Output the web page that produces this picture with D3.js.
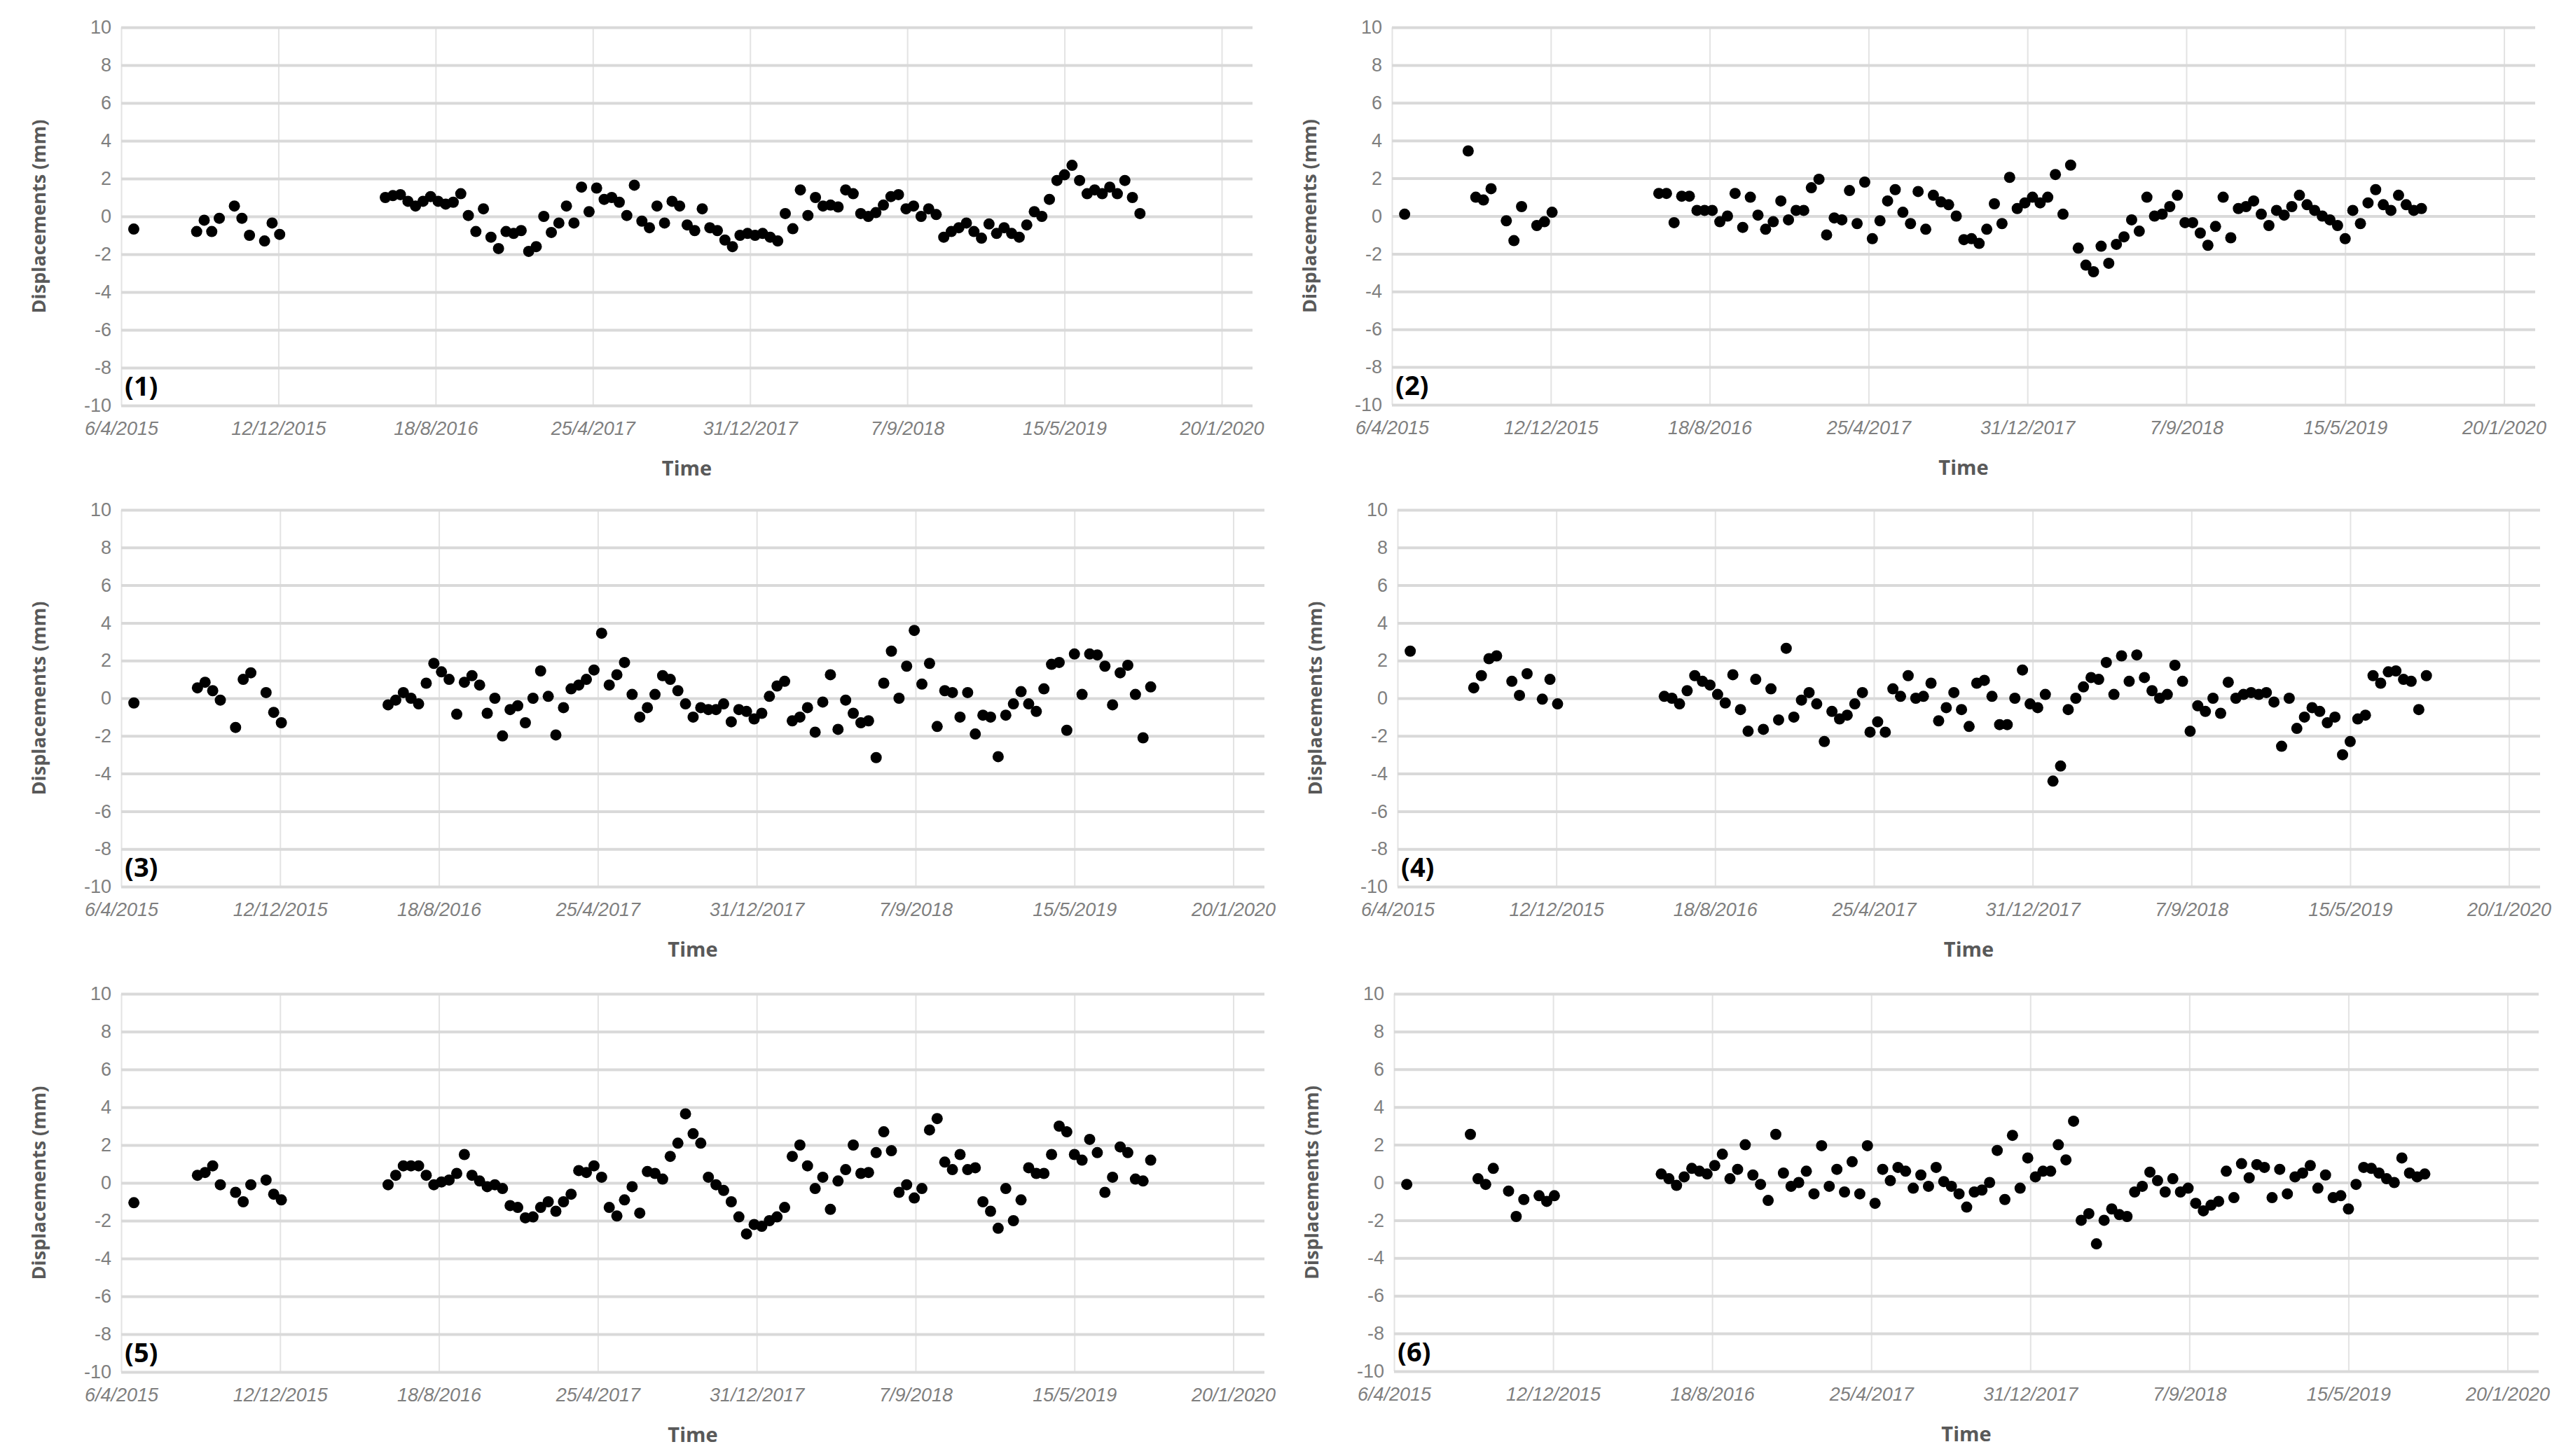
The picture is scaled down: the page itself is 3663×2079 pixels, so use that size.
<!DOCTYPE html>
<html><head><meta charset="utf-8">
<script src="https://cdn.jsdelivr.net/npm/d3@7"></script>
<style>body{margin:0;background:#fff}svg{display:block}</style>
</head><body>
<svg id="c" width="3663" height="2079"></svg>
<script>
// days since 6/4/2015
const dates = [20,120,132,144,156,180,192,204,228,240,252,
420,432,444,456,468,480,492,504,516,528,
540,552,564,576,588,600,612,624,636,648,
660,672,684,696,708,720,732,744,756,768,
780,792,804,816,828,840,852,864,876,888,
900,912,924,936,948,960,972,984,996,1008,
1020,1032,1044,1056,1068,1080,1092,1104,1116,1128,
1140,1152,1164,1176,1188,1200,1212,1224,1236,1248,
1260,1272,1284,1296,1308,1320,1332,1344,1356,1368,
1380,1392,1404,1416,1428,1440,1452,1464,1476,1488,
1500,1512,1524,1536,1548,1560,1572,1584,1596,1608,
1620];
const s1 = [-0.67,-0.8,-0.2,-0.8,-0.1,0.55,-0.1,-1.0,-1.3,-0.35,-0.95,
1.0,1.1,1.15,0.8,0.55,0.8,1.05,0.8,0.65,0.75,
1.2,0.05,-0.8,0.4,-1.1,-1.7,-0.8,-0.9,-0.75,-1.85,
-1.6,0,-0.85,-0.35,0.55,-0.35,1.55,0.25,1.5,0.9,
1.0,0.75,0.05,1.65,-0.25,-0.6,0.55,-0.35,0.8,0.55,
-0.45,-0.75,0.4,-0.6,-0.75,-1.25,-1.6,-1.0,-0.9,-1.0,
-0.9,-1.1,-1.3,0.15,-0.65,1.4,0.05,1.0,0.55,0.6,
0.5,1.4,1.2,0.15,0.0,0.2,0.6,1.05,1.15,0.4,
0.55,0.0,0.4,0.1,-1.1,-0.8,-0.6,-0.35,-0.8,-1.15,
-0.4,-0.9,-0.6,-0.9,-1.1,-0.45,0.25,0.0,0.9,1.9,
2.2,2.7,1.9,1.2,1.4,1.2,1.55,1.2,1.9,1.0,
0.15];
const s2 = [0.1,3.45,1.0,0.85,1.45,-0.25,-1.3,0.5,-0.5,-0.3,0.2,
1.2,1.2,-0.35,1.05,1.05,0.3,0.3,0.3,-0.3,0,
1.2,-0.6,1.0,0.05,-0.7,-0.3,0.8,-0.2,0.3,0.3,
1.5,1.95,-1.0,-0.1,-0.2,1.35,-0.4,1.8,-1.2,-0.25,
0.8,1.4,0.2,-0.4,1.3,-0.7,1.1,0.75,0.6,0.0,
-1.25,-1.2,-1.45,-0.7,0.65,-0.4,2.05,0.4,0.7,1.0,
0.7,1.0,2.2,0.1,2.7,-1.7,-2.6,-2.95,-1.6,-2.5,
-1.5,-1.1,-0.2,-0.8,1.0,0.0,0.1,0.5,1.1,-0.35,
-0.35,-0.9,-1.55,-0.55,1.0,-1.15,0.4,0.5,0.8,0.1,
-0.5,0.3,0.05,0.5,1.1,0.6,0.3,0.0,-0.2,-0.5,
-1.2,0.3,-0.4,0.7,1.4,0.6,0.3,1.1,0.6,0.3,
0.4];
const s3 = [-0.25,0.55,0.85,0.4,-0.1,-1.55,1.0,1.35,0.3,-0.75,-1.3,
-0.35,-0.1,0.3,0.0,-0.3,0.8,1.85,1.4,1.0,-0.85,
0.85,1.2,0.7,-0.8,0.0,-2.0,-0.6,-0.4,-1.3,0.0,
1.45,0.1,-1.95,-0.5,0.5,0.7,1.0,1.5,3.45,0.7,
1.25,1.9,0.2,-1.0,-0.5,0.2,1.2,1.0,0.4,-0.3,
-1.0,-0.5,-0.6,-0.6,-0.3,-1.25,-0.6,-0.7,-1.1,-0.8,
0.1,0.65,0.9,-1.2,-1.0,-0.5,-1.8,-0.2,1.25,-1.65,
-0.1,-0.8,-1.3,-1.2,-3.15,0.8,2.5,0.0,1.7,3.6,
0.75,1.85,-1.5,0.4,0.3,-1.0,0.3,-1.9,-0.9,-1.0,
-3.1,-0.9,-0.3,0.35,-0.3,-0.7,0.5,1.8,1.9,-1.7,
2.35,0.2,2.35,2.3,1.7,-0.35,1.35,1.75,0.2,-2.1,
0.6];
const s4 = [2.5,0.55,1.2,2.1,2.25,0.9,0.15,1.3,-0.05,1.0,-0.3,
0.1,0.0,-0.3,0.4,1.2,0.9,0.7,0.2,-0.25,1.25,
-0.6,-1.75,1.0,-1.65,0.5,-1.15,2.65,-1.0,-0.1,0.3,
-0.3,-2.3,-0.7,-1.1,-0.9,-0.3,0.3,-1.8,-1.25,-1.8,
0.5,0.1,1.2,0.0,0.1,0.8,-1.2,-0.5,0.3,-0.6,
-1.5,0.8,0.95,0.1,-1.4,-1.4,0.0,1.5,-0.3,-0.5,
0.2,-4.4,-3.6,-0.6,0.0,0.6,1.1,1.0,1.9,0.2,
2.25,0.9,2.3,1.1,0.4,0.0,0.2,1.75,0.9,-1.75,
-0.4,-0.7,0.0,-0.8,0.85,0.0,0.2,0.3,0.2,0.3,
-0.2,-2.55,0.0,-1.6,-1.0,-0.5,-0.7,-1.3,-1.0,-3.0,
-2.3,-1.1,-0.9,1.2,0.8,1.4,1.45,1.0,0.9,-0.6,
1.2];
const s5 = [-1.05,0.4,0.55,0.9,-0.1,-0.5,-1.0,-0.1,0.15,-0.6,-0.9,
-0.1,0.4,0.9,0.9,0.9,0.4,-0.1,0.05,0.15,0.5,
1.5,0.4,0.1,-0.2,-0.1,-0.3,-1.2,-1.3,-1.85,-1.8,
-1.3,-1.0,-1.5,-1.0,-0.6,0.65,0.55,0.9,0.3,-1.3,
-1.75,-0.9,-0.2,-1.6,0.6,0.5,0.2,1.4,2.1,3.65,
2.6,2.1,0.3,-0.1,-0.4,-1.0,-1.8,-2.7,-2.2,-2.3,
-2.0,-1.8,-1.3,1.4,2.0,0.9,-0.3,0.3,-1.4,0.1,
0.7,2.0,0.5,0.55,1.6,2.7,1.7,-0.5,-0.1,-0.8,
-0.3,2.8,3.4,1.1,0.7,1.5,0.7,0.8,-1.0,-1.5,
-2.4,-0.3,-2.0,-0.9,0.8,0.5,0.5,1.5,3.0,2.7,
1.5,1.2,2.3,1.6,-0.5,0.3,1.9,1.6,0.2,0.1,
1.2];
const s6 = [-0.1,2.55,0.2,-0.1,0.75,-0.45,-1.8,-0.9,-0.7,-1.0,-0.7,
0.45,0.2,-0.15,0.3,0.75,0.6,0.45,0.9,1.5,0.2,
0.7,2.0,0.4,-0.1,-0.95,2.55,0.5,-0.2,0.0,0.6,
-0.6,1.95,-0.2,0.7,-0.5,1.1,-0.6,1.95,-1.1,0.7,
0.1,0.8,0.6,-0.3,0.4,-0.2,0.8,0.05,-0.2,-0.6,
-1.3,-0.5,-0.4,0.0,1.7,-0.9,2.5,-0.3,1.3,0.3,
0.6,0.6,2.0,1.2,3.25,-2.0,-1.65,-3.25,-2.0,-1.4,
-1.7,-1.8,-0.5,-0.2,0.55,0.1,-0.5,0.2,-0.5,-0.3,
-1.1,-1.5,-1.2,-1.0,0.6,-0.8,1.0,0.25,0.95,0.8,
-0.8,0.7,-0.6,0.3,0.5,0.9,-0.3,0.4,-0.8,-0.7,
-1.4,-0.1,0.8,0.75,0.5,0.2,0.0,1.3,0.5,0.3,
0.45];
const xTickDays = [0,250,500,750,1000,1250,1500,1750];
const xTickLabels = ["6/4/2015","12/12/2015","18/8/2016","25/4/2017","31/12/2017","7/9/2018","15/5/2019","20/1/2020"];
const yTicks = [-10,-8,-6,-4,-2,0,2,4,6,8,10];
const panelLabels = ["(1)","(2)","(3)","(4)","(5)","(6)"];
const seriesList = [s1,s2,s3,s4,s5,s6];

const boxes = [
 {L:173,R:1788,T:39,B:579},{L:1987,R:3619,T:39,B:578},
 {L:173,R:1805,T:728,B:1266},{L:1995,R:3626,T:728,B:1266},
 {L:173,R:1805,T:1419,B:1959},{L:1990,R:3624,T:1419,B:1958}];

const svg = d3.select("#c");
const tickFont = "'Liberation Sans Narrow','Liberation Sans',Arial,sans-serif";
boxes.forEach((b,i)=>{
  const x = d3.scaleLinear().domain([0,1799]).range([b.L,b.R]);
  const y = d3.scaleLinear().domain([-10,10]).range([b.B,b.T]);
  const g = svg.append("g");
  const gx = g.append("g").attr("transform",`translate(0,${b.B})`)
    .call(d3.axisBottom(x).tickValues(xTickDays).tickSize(-(b.B-b.T)).tickFormat((d,k)=>xTickLabels[k]));
  gx.select(".domain").remove();
  gx.selectAll("line").attr("stroke","#e3e3e3").attr("stroke-width",2);
  gx.selectAll("text").attr("dy",0).attr("y",42).attr("font-family",tickFont)
    .attr("font-size",27).attr("fill","#7f7f7f").attr("font-style","italic");
  const gy = g.append("g").attr("transform",`translate(${b.L},0)`)
    .call(d3.axisLeft(y).tickValues(yTicks).tickSize(-(b.R-b.L)).tickPadding(14).tickFormat(d=>String(d)));
  gy.select(".domain").remove();
  gy.selectAll("line").attr("stroke","#d9d9d9").attr("stroke-width",4);
  gy.selectAll("text").attr("font-family",tickFont).attr("font-size",27).attr("fill","#7f7f7f");
  g.append("g").selectAll("circle").data(dates.map((d,k)=>[d,seriesList[i][k]]))
    .join("circle").attr("cx",d=>x(d[0])).attr("cy",d=>y(d[1])).attr("r",8).attr("fill","#000");
  g.append("text").attr("x",(b.L+b.R)/2).attr("y",b.B+100).attr("text-anchor","middle")
    .attr("font-family","'Open Sans',sans-serif").attr("font-weight","bold").attr("font-size",29).attr("fill","#595959").text("Time");
  g.append("text").attr("transform",`translate(${b.L-108},${(b.T+b.B)/2}) rotate(-90)`).attr("text-anchor","middle")
    .attr("font-family","'Open Sans',sans-serif").attr("font-weight","bold").attr("font-size",27).attr("fill","#595959").text("Displacements (mm)");
  g.append("text").attr("x",b.L+5).attr("y",b.B-14)
    .attr("font-family","'Open Sans',sans-serif").attr("font-weight","bold").attr("font-size",38).attr("fill","#000").text(panelLabels[i]);
});
</script>
</body></html>
